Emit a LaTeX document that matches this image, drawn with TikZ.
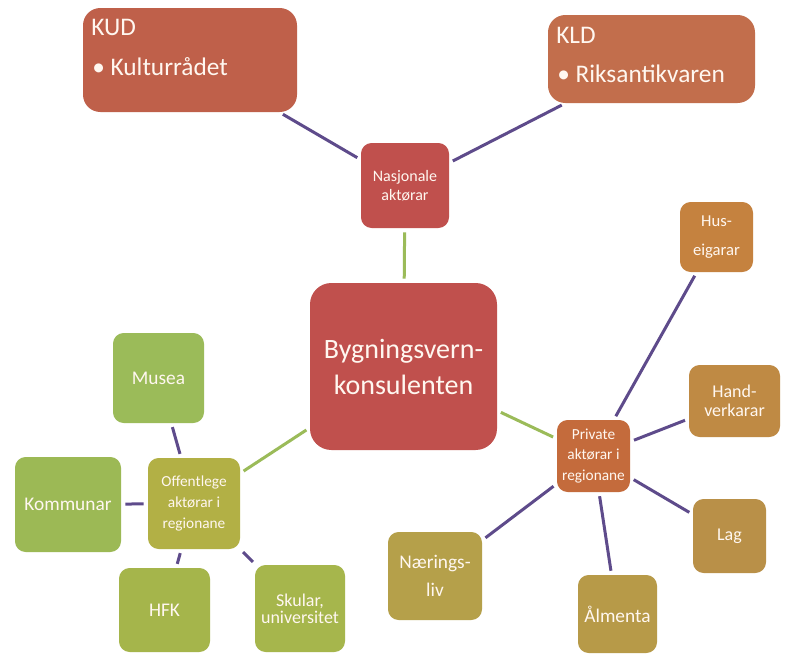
\documentclass[tikz,border=0pt]{standalone}
\usepackage{fontspec}
\setmainfont{Carlito}
\definecolor{kudc}{HTML}{BF604A}
\definecolor{kldc}{HTML}{C26E4C}
\definecolor{nasc}{HTML}{C0504D}
\definecolor{cenc}{HTML}{C0504D}
\definecolor{privc}{HTML}{C46B3C}
\definecolor{husc}{HTML}{C5823F}
\definecolor{handc}{HTML}{BF8A44}
\definecolor{lagc}{HTML}{B99048}
\definecolor{almc}{HTML}{B79A48}
\definecolor{naerc}{HTML}{B5A04A}
\definecolor{offc}{HTML}{B2B045}
\definecolor{museac}{HTML}{9BBB59}
\definecolor{kommc}{HTML}{9CB955}
\definecolor{hfkc}{HTML}{A5B54B}
\definecolor{skulc}{HTML}{A6B64C}
\definecolor{linep}{HTML}{5E4B8B}
\definecolor{lineg}{HTML}{9BBB59}
\definecolor{txtc}{HTML}{FFF7F0}
\tikzset{
  blk/.style={fill=#1, text=txtc, inner sep=0pt, align=center, rounded corners=8pt},
  sz/.style 2 args={minimum width=#1*0.75pt, minimum height=#2*0.75pt},
  kt/.style={text=txtc, inner sep=0pt, font=\fontsize{19pt}{21pt}\selectfont},
  purp/.style={draw=linep, line width=2.25pt, shorten <=3pt, shorten >=3pt},
  grn/.style={draw=lineg, line width=2.25pt, shorten <=3pt, shorten >=3pt},
  fbig/.style={font=\fontsize{21pt}{27pt}\selectfont},
  fmed/.style={font=\fontsize{14.5pt}{#1}\selectfont},
  fsmall/.style={font=\fontsize{11.5pt}{#1}\selectfont}
}
\begin{document}
\begin{tikzpicture}[x=0.75pt,y=-0.75pt]
\useasboundingbox (0,0) rectangle (800,671);
\fill[white] (0,0) rectangle (800,671);

% boxes
\node[blk=kudc, sz={214}{104}, rounded corners=13pt] (kud) at (190,60) {};
\node[kt, anchor=base west] (kudh) at (91,35) {KUD};
\node[kt, anchor=base west] (kudi) at (92,75) {• Kulturrådet};

\node[blk=kldc, sz={207}{88}, rounded corners=13pt] (kld) at (651.5,59) {};
\node[kt, anchor=base west] (kldh) at (556,43) {KLD};
\node[kt, anchor=base west] (kldi) at (557,82) {• Riksantikvaren};

\node[blk=nasc, sz={88}{85}, font=\fontsize{12pt}{14pt}\selectfont] (nas) at (405,185.5) {Nasjonale\\aktørar};
\node[blk=cenc, sz={187}{167}, rounded corners=16pt, fbig] (cen) at (403.5,366.5) {Bygningsvern-\\konsulenten};

\node[blk=privc, sz={73}{72}, fsmall=15.5pt] (priv) at (593.5,456) {Private\\aktørar i\\regionane};
\node[blk=offc, sz={92}{91}, fsmall=16pt] (off) at (194,503.5) {Offentlege\\aktørar i\\regionane};

\node[blk=museac, sz={91}{90}, fmed=16pt] (musea) at (158.5,378) {Musea};
\node[blk=kommc, sz={106}{95}, fmed=16pt] (komm) at (68,504.5) {Kommunar};
\node[blk=hfkc, sz={91}{84}, fmed=16pt] (hfk) at (164.5,610) {HFK};
\node[blk=skulc, sz={90}{87}, font=\fontsize{13.5pt}{13pt}\selectfont] (skul) at (300,608.5) {Skular,\\universitet};

\node[blk=husc, sz={73}{70}, font=\fontsize{12.5pt}{21.5pt}\selectfont] (hus) at (716.5,237) {Hus-\\eigarar};
\node[blk=handc, sz={91}{72}, font=\fontsize{13.5pt}{14pt}\selectfont] (hand) at (734.5,401) {Hand-\\verkarar};
\node[blk=lagc, sz={73}{74}, font=\fontsize{13.5pt}{16pt}\selectfont] (lag) at (729.5,536) {Lag};
\node[blk=naerc, sz={94}{88}, fmed=21pt] (naer) at (435,576) {Nærings-\\liv};
\node[blk=almc, sz={79}{78}, fmed=16pt] (alm) at (617.5,614) {Ålmenta};

% connectors
\draw[purp] (kud) -- (nas);
\draw[purp] (kld) -- (nas);
\draw[grn] (nas) -- (cen);
\draw[grn] (cen) -- (off);
\draw[grn] (cen) -- (priv);
\draw[purp] (off) -- (musea);
\draw[purp] (off) -- (komm);
\draw[purp] (off) -- (hfk);
\draw[purp] (off) -- (skul);
\draw[purp] (priv) -- (hus);
\draw[purp] (priv) -- (hand);
\draw[purp] (priv) -- (lag);
\draw[purp] (priv) -- (alm);
\draw[purp] (priv) -- (naer);
\end{tikzpicture}
\end{document}
